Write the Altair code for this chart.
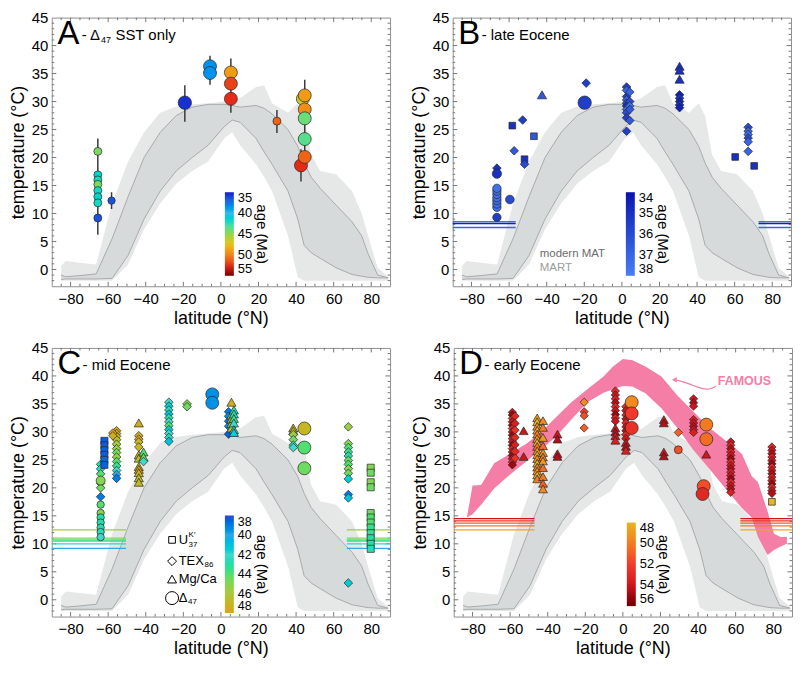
import altair as alt
import pandas as pd

# ---------------- layout constants ----------------
XD = [-90, 90]
YD = [-3, 45]
W, H = 340, 270
FONT = "Liberation Sans"

# ---------------- modern temperature envelope (same in all panels) ----------------
band_lat = [-85, -82.6, -75, -66.4, -57.9, -49.4, -40.9, -32.3, -23.8, -15.3, -6.8, 1.7, 6.0, 10.2,
            18.7, 23.0, 27.2, 35.7, 40.9, 44.3, 48.0, 52.8, 61.3, 69.8, 74.9, 78.3, 83.4, 89]
band_outer_lo = [-2.0, -2.0, -2.0, -2.0, -2.0, 0.9, 7.2, 11.8, 15.3, 17.6, 19.3, 23.4, 24.5, 22.2,
                 18.8, 16.5, 14.0, 6.0, -1.4, -2.0, -2.0, -2.0, -2.0, -2.0, -2.0, -2.0, -2.0, -2.0]
band_inner_lo = [-1.8, -1.7, -1.7, -1.7, -1.6, 2.5, 9.0, 14.0, 17.6, 20.0, 22.2, 25.5, 26.7, 26.3,
                 23.4, 21.0, 18.8, 14.0, 9.0, 4.3, 3.0, 2.0, 0.3, -0.9, -1.2, -1.4, -1.5, -1.5]
band_inner_hi = [-1.0, -1.3, -1.1, -0.8, 5.5, 13.0, 20.0, 24.5, 27.5, 29.0, 29.5, 29.5, 29.3, 29.0,
                 29.3, 28.8, 27.8, 25.0, 22.0, 19.0, 16.5, 14.5, 11.5, 8.5, 6.0, 2.8, -1.0, -1.5]
band_outer_hi = [0.6, 1.5, 1.2, 0.9, 11.8, 19.3, 24.5, 28.0, 29.1, 29.5, 29.7, 30.0, 30.2, 30.6,
                 32.6, 32.9, 29.7, 28.0, 29.7, 27.4, 20.5, 17.6, 17.0, 14.0, 10.0, 6.0, 0.3, -1.3]

# ---------------- FAMOUS model band (panel D) ----------------
fam_lat = [-83, -80, -75.4, -68.5, -60, -51.4, -44.6, -36, -27.4, -18.9, -10.3, -5.2, 0, 5.1, 12,
           20.5, 29, 37.6, 46.2, 54.8, 63.3, 68.5, 71.9, 77, 80.4, 83.9, 87.3]
fam_hi = [14.7, 20.4, 20.5, 24.4, 26.1, 27.9, 29.6, 32.5, 35.3, 37.6, 39.9, 41.7, 43.0, 42.8, 41.7,
          39.9, 36.5, 33.6, 30.7, 28.4, 26.1, 22.1, 21.0, 15.8, 11.8, 11.2, 11.2]
fam_lo = [14.7, 15.3, 17.0, 19.9, 22.4, 24.7, 26.6, 29.0, 32.2, 35.3, 37.0, 37.6, 38.2, 38.1, 36.9,
          34.2, 30.7, 26.7, 23.3, 19.8, 16.4, 14.7, 11.2, 8.0, 8.9, 9.5, 10.0]
arrow_lat = [49.6, 46.2, 41.1, 36.0, 30.8, 27.4]
arrow_temp = [38.2, 37.5, 37.8, 38.5, 39.1, 39.3]

# ---------------- proxies ----------------
proxy_names = ["UK37", "TEX86", "MgCa", "D47"]
proxy_shapes = ["square", "diamond", "triangle-up", "circle"]

# ---------------- Panel A: Δ47 only ----------------
A_site_lat = [-65.5, -58.2, -19.2, -5.8, 5.3, 29.8, 42.6, 43.6, 44.6]
A_site_proxy = ["D47"] * 9
A_site_size = [64, 55, 180, 170, 170, 64, 170, 170, 170]
A_site_temps = [[21.1, 16.9, 16.0, 15.2, 14.1, 13.0, 11.9, 9.2], [12.3], [29.8], [36.3, 35.1],
                [35.2, 33.2, 30.5], [26.5], [18.6], [30.5], [31.1, 28.6, 27.0, 23.3, 20.1]]
A_site_ages = [[44.5, 41.5, 42, 44.5, 42, 41.5, 42, 36.5], [36.5], [35.5], [38.5, 38.5],
               [49, 52, 52.5], [51], [52.5], [46.5], [49, 49.5, 44, 43.5, 51]]
A_err_lat = [-65.5, -58.2, -19.2, -5.8, 5.3, 29.8, 42.6, 44.6]
A_err_lo = [6.2, 10.8, 26.4, 33.0, 28.0, 24.4, 15.7, 18.0]
A_err_hi = [23.4, 13.8, 32.9, 38.2, 37.7, 28.5, 21.5, 33.9]
A_age_stops = [35, 37.5, 40, 42.5, 45, 47.5, 50, 52.5, 55]
A_colors = ["#1c1cc8", "#2f6fe6", "#34bde6", "#3fdfb0", "#8fd84a", "#e9c21e", "#f2801e", "#e62a18", "#780000"]
A_legend_vals = [35, 40, 45, 50, 55]

# ---------------- Panel B: late Eocene ----------------
B_site_lat = [-66.5, -66.5, -66.5, -59.6, -58.3, -52.8, -57.3, -51.8, -51.8, -46.8, -42.5, -19.8,
              -19.0, 2.5, 4.2, 30.7, 30.7, 60.3, 67.2, 70.4]
B_site_proxy = ["D47", "D47", "TEX86", "D47", "UK37", "TEX86", "TEX86", "UK37", "TEX86", "UK37",
                "MgCa", "D47", "TEX86", "TEX86", "TEX86", "MgCa", "TEX86", "UK37", "TEX86", "UK37"]
B_site_size = [70, 86, 75, 75, 45, 75, 75, 45, 75, 45, 85, 180, 75, 75, 75, 85, 75, 45, 75, 45]
B_site_temps = [[9.3, 11.1, 11.7, 12.3, 12.8, 13.4, 14.0, 14.5], [17.1], [18.1], [12.5], [25.7],
                [26.7], [21.2], [19.7], [18.8], [23.8], [31.2], [29.8], [33.3],
                [32.6, 32.0, 30.9, 30.3, 29.7, 29.2, 28.6, 28.0, 27.1, 24.7],
                [31.7, 30.0, 29.2, 28.6, 26.6], [36.3, 35.6, 34.0], [31.2, 30.6, 30.0, 29.4, 28.9],
                [20.1], [25.4, 24.7, 24.1, 23.5, 22.8, 21.1], [18.5]]
B_site_ages = [[35.5, 37.5, 37.5, 37.5, 37.5, 37.5, 37.5, 37.5], [35], [35], [36], [35], [35.5],
               [36.5], [35], [36], [36.5], [36.5], [35.5], [35.5],
               [35.5, 37, 35.5, 37, 36, 35, 37.5, 36, 35.5, 35.5], [37, 36, 37.5, 36.5, 36.5],
               [35, 35, 35], [34.5, 35, 34.5, 35, 34.5], [35], [36, 37, 37.5, 36, 37, 37], [35]]
B_hl_temp = [8.5, 8.2, 7.5]
B_hl_age = [35.5, 34.5, 37.0]
B_hl_span = [-56.5, 72.7]
B_age_stops = [34, 38]
B_colors = ["#0b0fae", "#4a7ef2"]
B_legend_vals = [34, 35, 36, 37, 38]

# ---------------- Panel C: mid Eocene ----------------
C_site_lat = [-64, -64, -64, -62, -55.5, -57.5, -43.7, -43.7, -41.2, -41.2, -27.7, -18, -4.6, 4.1,
              5.6, 6.9, 38.5, 38.5, 44.4, 67.8, 79.7]
C_site_proxy = ["D47", "D47", "TEX86", "UK37", "TEX86", "TEX86", "MgCa", "TEX86", "MgCa", "TEX86",
                "TEX86", "TEX86", "D47", "TEX86", "MgCa", "MgCa", "MgCa", "TEX86", "D47", "TEX86", "UK37"]
C_site_size = [55, 81, 75, 50, 75, 75, 85, 75, 85, 75, 75, 75, 170, 75, 85, 85, 85, 75, 170, 75, 50]
C_site_temps = [[17.0, 15.5, 14.7, 13.8, 12.9, 12.1, 11.2], [21.3],
                [24.2, 23.4, 22.5, 20.8, 20.0, 18.4], [28.4, 27.6, 26.7, 25.9, 25.0, 24.1],
                [30.2, 29.7, 29.2, 28.6, 27.8, 27.0, 26.3, 25.5, 24.7, 23.9, 23.1, 22.4, 21.7],
                [29.8, 29.3], [31.6, 25.9, 25.3, 23.8, 23.3, 22.7, 21.8, 21.0],
                [29.3, 28.7, 28.2, 27.3], [26.4, 25.5], [24.7],
                [35.3, 34.6, 33.9, 33.2, 32.5, 31.8, 31.1, 30.4, 29.7, 29.0, 28.3], [35.0, 34.5],
                [36.7, 35.2], [33.6, 32.8, 31.9, 31.0, 29.6], [35.3, 33.0, 32.3, 31.5, 30.7],
                [33.9, 33.2, 32.4, 31.6, 30.4, 29.9], [30.7, 30.2], [29.5, 28.6, 27.6, 27.2],
                [30.6, 27.2, 23.5],
                [30.9, 27.9, 27.2, 26.4, 25.7, 24.9, 24.2, 23.4, 22.6, 21.6, 18.8, 18.2, 3.0],
                [23.6, 22.7, 21.0, 20.1, 15.5, 14.7, 13.8, 12.9, 11.9, 11.0, 10.0, 9.1]]
C_site_ages = [[44, 45, 43, 43, 42.5, 42.5, 42], [45], [43, 42.5, 44, 45, 44.5, 39],
               [38.5, 38.3, 38.6, 38.4, 38.7, 38.5],
               [48, 47.5, 47, 46.5, 46, 45.5, 44.5, 45.5, 44, 43.5, 42, 40, 39], [48, 47.5],
               [47.5, 47, 46.5, 47.5, 48, 47.5, 46.5, 47], [47.5, 48, 47, 47], [44, 44.5], [42],
               [42, 41.5, 42.5, 41, 43, 42, 44, 41.5, 42, 42.5, 41], [45, 44.5], [39.5, 39.5],
               [39, 39.5, 39, 39.5, 38.5], [47.5, 46.5, 47, 46.5, 47], [43, 42.5, 43.5, 42, 42.5, 41.5],
               [47.5, 47], [45.5, 44.5, 42.5, 42], [47, 44, 44.5],
               [45.5, 45, 44, 43.5, 43, 44.5, 44, 45, 44.5, 41.5, 39, 41, 41.5],
               [45, 44.5, 45, 44.5, 44.5, 44, 44, 43.5, 43.5, 43, 43, 42.5]]
C_hl_temp = [12.5, 11.0, 10.7, 10.5, 10.0, 9.2]
C_hl_age = [45.8, 44.8, 44.0, 43.5, 41.8, 40.0]
C_hl_span = [-50.5, 67.0]
C_age_stops = [38, 40, 42, 44, 46, 48]
C_colors = ["#3048d0", "#31a6e8", "#40d8c8", "#50e070", "#a9c93a", "#dca21f"]
C_legend_vals = [38, 40, 42, 44, 46, 48]

# ---------------- Panel D: early Eocene ----------------
D_site_lat = [-58.8, -57.4, -52.8, -45.6, -42.5, -34.8, -20.6, -4.0, -4.0, 1.6, 1.6, 4.7, 21.8,
              29.5, 29.5, 37.6, 44.4, 44.4, 43.0, 42.4, 57.4, 79.3, 79.3]
D_site_proxy = ["TEX86", "TEX86", "MgCa", "MgCa", "MgCa", "MgCa", "TEX86", "TEX86", "MgCa", "TEX86",
                "MgCa", "D47", "MgCa", "TEX86", "D47", "TEX86", "D47", "MgCa", "D47", "D47", "TEX86",
                "TEX86", "UK37"]
D_site_size = [70, 70, 80, 80, 80, 80, 70, 70, 80, 70, 80, 170, 80, 70, 64, 70, 170, 80, 170, 170,
               70, 70, 45]
D_site_temps = [[33.5, 33.0, 32.4, 31.8, 31.2, 30.6, 30.0, 29.4, 28.8, 28.2, 27.6, 27.0, 26.4, 25.8,
                 25.2, 24.6, 24.1],
                [32.8, 31.5, 30.3, 29.0, 27.7, 26.5, 25.3], [30.2, 25.6],
                [32.5, 31.8, 31.0, 30.3, 29.6, 28.8, 28.1, 27.4, 26.6, 25.9, 25.2, 24.4, 23.7, 23.0,
                 22.3, 21.6],
                [32.0, 30.8, 29.0, 27.5, 26.3, 25.5, 24.8, 23.6, 22.0, 20.8, 19.8],
                [29.6, 28.7, 26.1, 25.6], [35.3, 33.6, 32.9, 30.7],
                [37.3, 36.6, 35.9, 35.2, 34.5, 33.8, 33.1, 32.5, 31.9], [30.7, 30.0, 29.3, 28.5],
                [34.5, 33.8, 33.0, 32.3, 31.6, 30.9, 30.2, 29.5, 28.8], [28.1, 27.4, 26.7],
                [35.3, 33.3, 30.7], [32.2, 31.6, 26.4, 25.7], [29.9], [26.8],
                [35.9, 35.2, 34.6, 32.2, 31.6, 31.0, 30.4, 29.9], [31.3, 28.7], [26.0], [20.3], [18.9],
                [28.2, 27.6, 27.0, 26.4, 25.8, 25.2, 24.6, 24.0, 23.4, 22.8, 22.2, 21.6, 21.0, 20.4,
                 19.8, 19.2],
                [27.3, 26.7, 26.1, 25.5, 24.9, 24.3, 23.7, 23.1, 22.5, 21.9, 21.3, 20.7, 20.1, 19.5,
                 19.0],
                [17.5]]
D_site_ages = [[54, 55, 53, 54, 55, 53, 54, 55, 53.5, 54, 55, 53, 54, 55, 54, 53, 55],
               [53, 53.5, 52.5, 53, 53.5, 53, 52.5], [54, 54],
               [49, 48, 49.5, 48.5, 50, 49, 48, 50.5, 49, 48.5, 49.5, 48, 50, 49, 48.5, 50],
               [49.5, 50, 49, 50.5, 49.5, 50, 49, 50.5, 50, 51, 49.5],
               [54, 54.5, 54, 54.5], [49.5, 52, 51.5, 51],
               [53, 54, 53.5, 54.5, 53, 54, 55, 53.5, 54], [54, 54.5, 54, 53.5],
               [53, 54, 53.5, 54.5, 53, 54, 54.5, 53, 54], [54, 54.5, 53.5],
               [49.5, 52, 52.5], [54, 54.5, 54, 54.5], [51], [51.5],
               [54, 54.5, 54, 53.5, 54, 54.5, 54, 53.5], [50, 50.5], [54], [51.5], [53],
               [54, 53, 54.5, 53.5, 54, 55, 53, 54, 54.5, 53.5, 54, 55, 53, 54, 54.5, 53.5],
               [53, 54, 54.5, 53.5, 54, 55, 53, 54, 54.5, 53.5, 54, 55, 53, 54, 54.5],
               [48]]
D_hl_temp = [14.5, 14.1, 13.7, 13.2, 12.5]
D_hl_age = [54.0, 52.5, 51.0, 50.0, 48.5]
D_hl_span = [-47.0, 62.5]
D_age_stops = [48, 50, 52, 54, 56]
D_colors = ["#e8b42a", "#f47a22", "#f23a2a", "#d0141c", "#6e0000"]
D_legend_vals = [48, 50, 52, 54, 56]

# ---------------- helpers ----------------
xscale = alt.Scale(domain=XD, nice=False, zero=False)
yscale = alt.Scale(domain=YD, nice=False, zero=False)
xaxis = alt.Axis(title="latitude (°N)", values=[-80, -60, -40, -20, 0, 20, 40, 60, 80],
                 ticks=False, domain=False, grid=False, labelPadding=5, titlePadding=3,
                 labelFontSize=15, titleFontSize=18, labelFont=FONT, titleFont=FONT,
                 titleFontWeight="normal", labelColor="black", titleColor="black", labelFlush=False)
yaxis = alt.Axis(title="temperature (°C)", values=[0, 5, 10, 15, 20, 25, 30, 35, 40, 45],
                 ticks=False, domain=False, grid=False, labelPadding=4, titlePadding=4,
                 labelFontSize=15, titleFontSize=18, labelFont=FONT, titleFont=FONT,
                 titleFontWeight="normal", labelColor="black", titleColor="black", labelFlush=False)
X = alt.X("lat:Q", scale=xscale, axis=xaxis)
Y = alt.Y("temp:Q", scale=yscale, axis=yaxis)
shape_enc = alt.Shape("proxy:N", scale=alt.Scale(domain=proxy_names, range=proxy_shapes), legend=None)


def build_points(lat, proxy, size, temps, ages):
    rows = []
    for la, pr, sz, ts, ags in zip(lat, proxy, size, temps, ages):
        for t, a in zip(ts, ags):
            rows.append({"lat": la, "temp": t, "nage": -a, "proxy": pr, "size": sz,
                         "order": 1 if pr == "D47" else 0})
    df = pd.DataFrame(rows)
    return df.sort_values("order", kind="stable").reset_index(drop=True)


def build_hlines(temps, ages, span):
    rows = []
    for t, a in zip(temps, ages):
        rows.append({"lat": XD[0], "lat2": span[0], "temp": t, "nage": -a})
        rows.append({"lat": span[1], "lat2": XD[1], "temp": t, "nage": -a})
    return pd.DataFrame(rows)


def text_layer(lat, temp, text, **kw):
    df = pd.DataFrame({"lat": [lat], "temp": [temp], "text": [text]})
    return alt.Chart(df).mark_text(font=FONT, **kw).encode(x=X, y=Y, text="text:N")


band_outer_df = pd.DataFrame({"lat": band_lat, "temp": band_outer_lo, "temp2": band_outer_hi})
band_inner_df = pd.DataFrame({"lat": band_lat, "temp": band_inner_lo, "temp2": band_inner_hi})
line_hi_df = pd.DataFrame({"lat": band_lat, "temp": band_inner_hi})
line_lo_df = pd.DataFrame({"lat": band_lat, "temp": band_inner_lo})

tick_rows = []
for v in range(-2, 45):
    L = 2.4 if v % 5 == 0 else 1.3
    tick_rows.append({"lat": XD[0], "lat2": XD[0] + L, "temp": v, "temp2": v})
    tick_rows.append({"lat": XD[1] - L, "lat2": XD[1], "temp": v, "temp2": v})
for v in range(-85, 90, 5):
    L = 0.8 if v % 20 == 0 else 0.45
    tick_rows.append({"lat": v, "lat2": v, "temp": YD[0], "temp2": YD[0] + L})
    tick_rows.append({"lat": v, "lat2": v, "temp": YD[1] - L, "temp2": YD[1]})
ticks_df = pd.DataFrame(tick_rows)


def base_layers():
    return [
        alt.Chart(band_outer_df).mark_area(color="#e6e8e8").encode(x=X, y=Y, y2="temp2:Q"),
        alt.Chart(band_inner_df).mark_area(color="#d7dada").encode(x=X, y=Y, y2="temp2:Q"),
        alt.Chart(line_hi_df).mark_line(color="#a6aaaa", strokeWidth=1).encode(x=X, y=Y),
        alt.Chart(line_lo_df).mark_line(color="#a6aaaa", strokeWidth=1).encode(x=X, y=Y),
        alt.Chart(ticks_df).mark_rule(color="#777777", strokeWidth=1).encode(
            x=X, x2="lat2:Q", y=Y, y2="temp2:Q"),
    ]


def panel(pts, stops, colors, leg_vals, letter, subtitle_layers, hl=None, below=None, above=None,
          bar_len=84, bar_y=175.5, label_size=13):
    cdom = [-s for s in stops[::-1]]
    crange = colors[::-1]
    # the reference-line stroke scale uses the same colours; its domain end is nudged by a hair so
    # that Vega-Lite does not merge (and then drop) its hidden legend with the colour bar
    sdom = [cdom[0] - 0.001] + cdom[1:]
    legend = alt.Legend(type="gradient", orient="none", legendX=174, legendY=bar_y,
                        direction="vertical", gradientLength=bar_len, gradientThickness=9,
                        title=None, values=[-v for v in leg_vals[::-1]],
                        labelExpr="format(-datum.value, 'd')", labelFontSize=label_size,
                        labelFont=FONT, labelColor="black", padding=0,
                        gradientStrokeWidth=0, labelOffset=4, labelOverlap=False)
    color_pts = alt.Color("nage:Q", scale=alt.Scale(domain=cdom, range=crange), legend=legend)
    stroke_hl = alt.Stroke("nage:Q", scale=alt.Scale(domain=sdom, range=crange), legend=None)
    layers = base_layers()
    if below:
        layers += below
    if hl is not None:
        layers.append(alt.Chart(hl).mark_rule(strokeWidth=1.3).encode(
            x=X, x2="lat2:Q", y=Y, stroke=stroke_hl))
    if above:
        layers += above
    layers.append(alt.Chart(pts).mark_point(filled=True, opacity=1, stroke="#262626",
                                            strokeWidth=0.7).encode(
        x=X, y=Y, color=color_pts, shape=shape_enc, size=alt.Size("size:Q", scale=None)))
    layers.append(text_layer(-87, 40.3, letter, fontSize=33, align="left", baseline="alphabetic",
                             color="black"))
    layers += subtitle_layers
    layers.append(text_layer(21.7, 6.3, "age (Ma)", fontSize=15, angle=90, align="center",
                             baseline="middle", color="black"))
    return alt.layer(*layers).properties(width=W, height=H)


# ---------------- panel A ----------------
A_pts = build_points(A_site_lat, A_site_proxy, A_site_size, A_site_temps, A_site_ages)
A_err = pd.DataFrame({"lat": A_err_lat, "temp": A_err_lo, "temp2": A_err_hi})
A_err_layer = alt.Chart(A_err).mark_rule(color="#3a3a3a", strokeWidth=1.5).encode(x=X, y=Y, y2="temp2:Q")
A_sub = [
    text_layer(-74.1, 41.0, "- Δ", fontSize=15, align="left", baseline="alphabetic", color="black"),
    text_layer(-74.1, 41.0, "47", fontSize=9, align="left", baseline="alphabetic", dx=19.5, dy=3,
               color="black"),
    text_layer(-74.1, 41.0, "SST only", fontSize=15, align="left", baseline="alphabetic", dx=34,
               color="black"),
]
pA = panel(A_pts, A_age_stops, A_colors, A_legend_vals, "A", A_sub, above=[A_err_layer])

# ---------------- panel B ----------------
B_pts = build_points(B_site_lat, B_site_proxy, B_site_size, B_site_temps, B_site_ages)
B_hl = build_hlines(B_hl_temp, B_hl_age, B_hl_span)
B_sub = [
    text_layer(-74.6, 41.0, "- late Eocene", fontSize=15, align="left", baseline="alphabetic",
               color="black"),
    text_layer(-43.7, 2.8, "modern MAT", fontSize=11.5, align="left", baseline="middle",
               color="#6b6b6b"),
    text_layer(-43.7, 0.3, "MART", fontSize=11.5, align="left", baseline="middle", color="#9c9c9c"),
]
pB = panel(B_pts, B_age_stops, B_colors, B_legend_vals, "B", B_sub, hl=B_hl)

# ---------------- panel C ----------------
C_pts = build_points(C_site_lat, C_site_proxy, C_site_size, C_site_temps, C_site_ages)
C_hl = build_hlines(C_hl_temp, C_hl_age, C_hl_span)
key_df = pd.DataFrame({"lat": [-26, -26, -26, -26], "temp": [10.7, 6.9, 3.7, 0.3],
                       "proxy": proxy_names, "size": [45, 81, 81, 170]})
key_sym = alt.Chart(key_df).mark_point(filled=False, color="black", strokeWidth=1, opacity=1).encode(
    x=X, y=Y, shape=shape_enc, size=alt.Size("size:Q", scale=None))
C_sub = [
    text_layer(-73.6, 41.0, "- mid Eocene", fontSize=15, align="left", baseline="alphabetic",
               color="black"),
    key_sym,
    text_layer(-22.5, 10.7, "U", fontSize=13, align="left", baseline="middle", color="black"),
    text_layer(-22.5, 10.7, "K′", fontSize=8, align="left", baseline="middle", dx=10, dy=-5,
               color="black"),
    text_layer(-22.5, 10.7, "37", fontSize=8, align="left", baseline="middle", dx=10, dy=5,
               color="black"),
    text_layer(-22.5, 6.9, "TEX", fontSize=13, align="left", baseline="middle", color="black"),
    text_layer(-22.5, 6.9, "86", fontSize=8, align="left", baseline="middle", dx=26, dy=4,
               color="black"),
    text_layer(-22.5, 3.7, "Mg/Ca", fontSize=13, align="left", baseline="middle", color="black"),
    text_layer(-22.5, 0.3, "Δ", fontSize=13, align="left", baseline="middle", color="black"),
    text_layer(-22.5, 0.3, "47", fontSize=8, align="left", baseline="middle", dx=9.5, dy=4,
               color="black"),
]
pC = panel(C_pts, C_age_stops, C_colors, C_legend_vals, "C", C_sub, hl=C_hl,
           bar_len=98, bar_y=168.5, label_size=12.5)

# ---------------- panel D ----------------
D_pts = build_points(D_site_lat, D_site_proxy, D_site_size, D_site_temps, D_site_ages)
D_hl = build_hlines(D_hl_temp, D_hl_age, D_hl_span)
fam_df = pd.DataFrame({"lat": fam_lat, "temp": fam_lo, "temp2": fam_hi})
fam_layer = alt.Chart(fam_df).mark_area(color="#f47ea6", opacity=1).encode(x=X, y=Y, y2="temp2:Q")
arrow_df = pd.DataFrame({"lat": arrow_lat, "temp": arrow_temp})
arrow_line = alt.Chart(arrow_df).mark_line(color="#f47ea6", strokeWidth=1.2, interpolate="basis").encode(
    x=X, y=Y)
arrow_head = alt.Chart(arrow_df.tail(1)).mark_point(shape="triangle-left", filled=True,
                                                     color="#f47ea6", size=30, opacity=1).encode(x=X, y=Y)
D_sub = [
    text_layer(-73.6, 41.0, "- early Eocene", fontSize=15, align="left", baseline="alphabetic",
               color="black"),
    arrow_line, arrow_head,
    text_layer(50.5, 39.1, "FAMOUS", fontSize=12.5, fontWeight="bold", align="left",
               baseline="middle", color="#f47ea6"),
]
pD = panel(D_pts, D_age_stops, D_colors, D_legend_vals, "D", D_sub, hl=D_hl, below=[fam_layer])

row1 = alt.hconcat(pA, pB, spacing=18).resolve_scale(color="independent", stroke="independent")
row2 = alt.hconcat(pC, pD, spacing=18).resolve_scale(color="independent", stroke="independent")
chart = (
    alt.vconcat(row1, row2, spacing=12)
    .resolve_scale(color="independent", stroke="independent")
    .properties(padding=0, background="white")
    .configure_view(stroke="#8f8f8f", strokeWidth=1)
)

chart.save("out.html", embed_options={"renderer": "svg", "actions": False})
